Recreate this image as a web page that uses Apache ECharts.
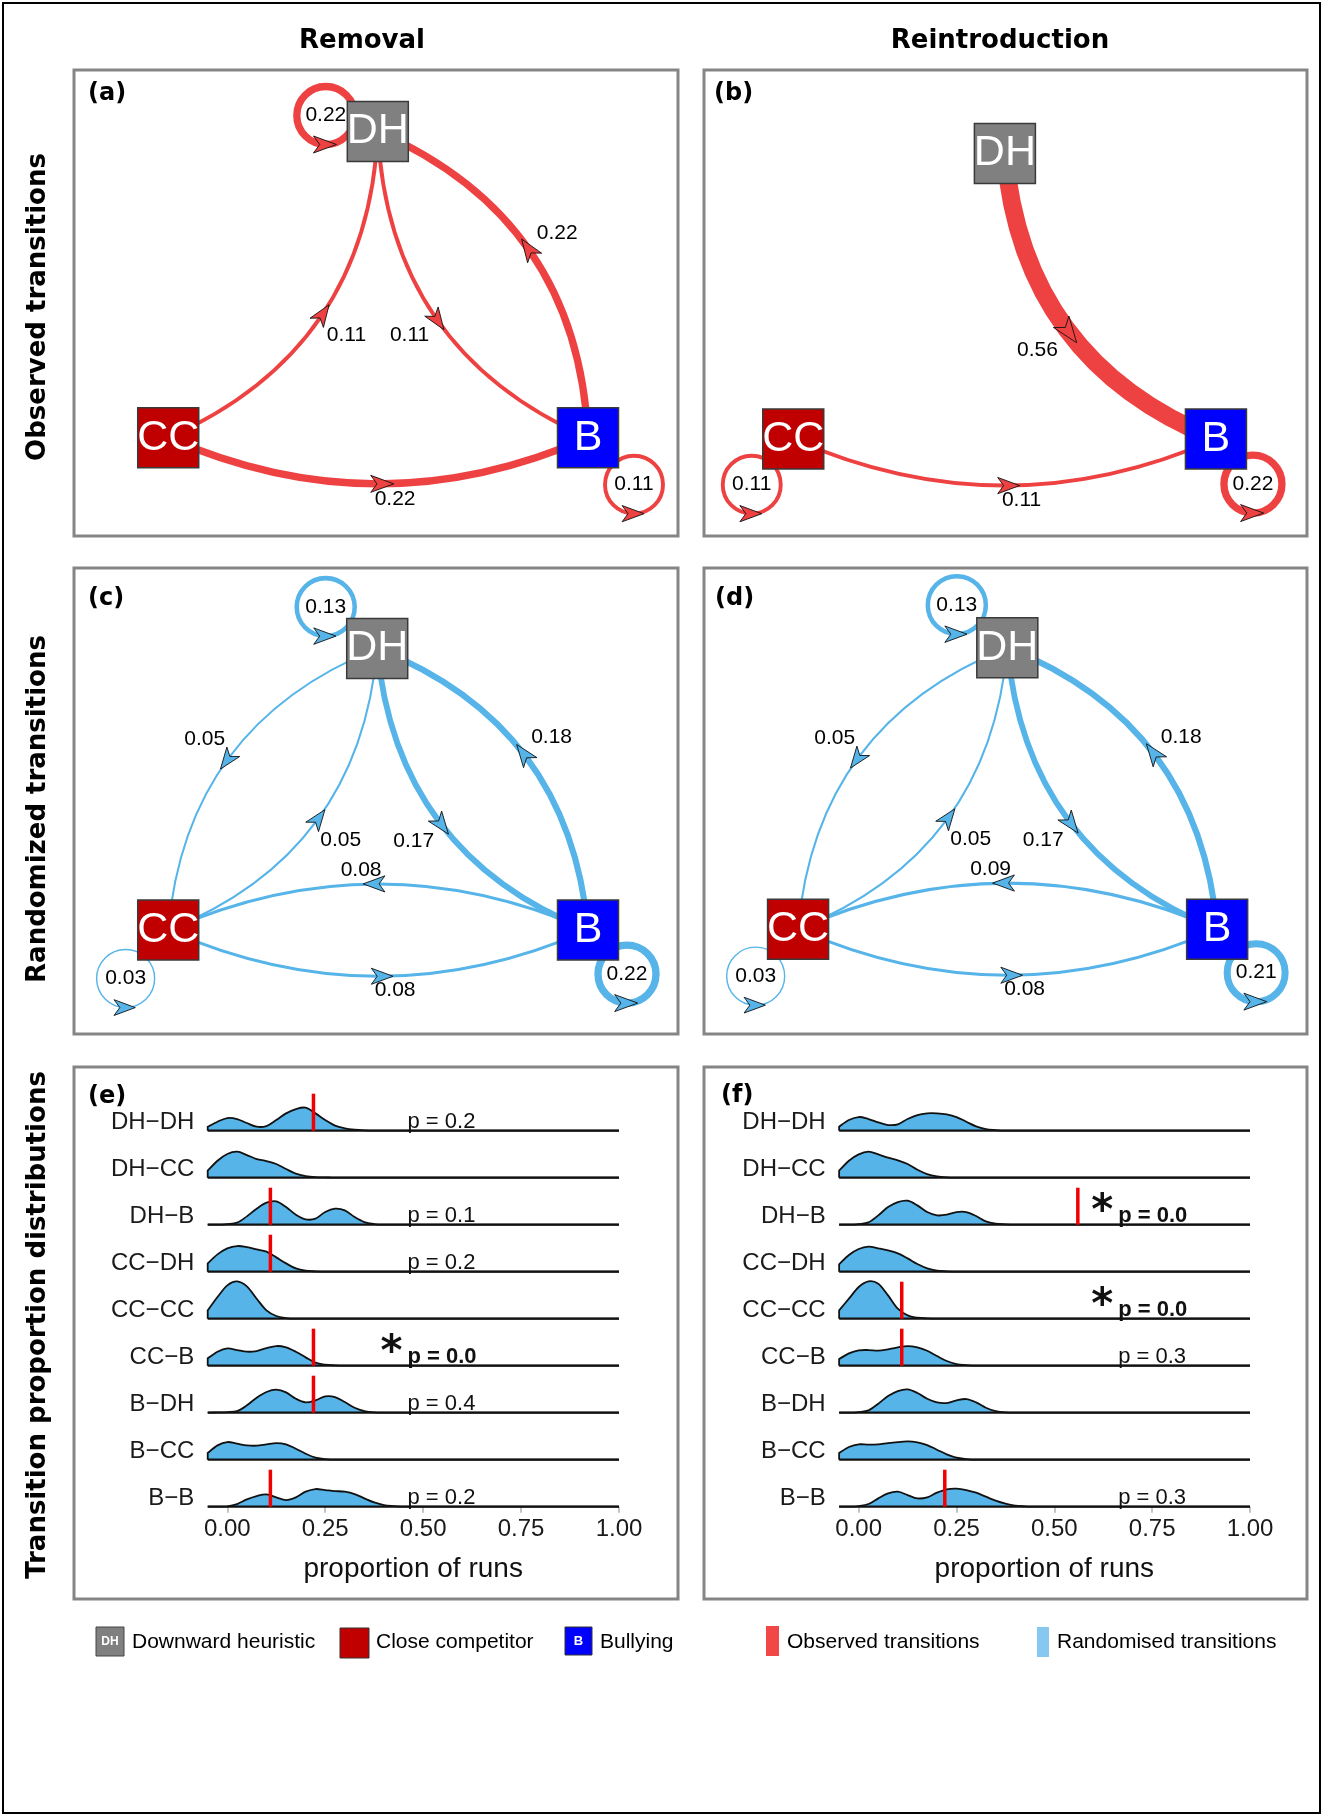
<!DOCTYPE html>
<html><head><meta charset="utf-8">
<script src="https://cdn.jsdelivr.net/npm/echarts@6/dist/echarts.min.js"></script>
<style>html,body{margin:0;padding:0;background:#fff}#c{width:1323px;height:1818px}</style>
</head><body><div id="c"></div>
<script>
// ================= DATA =================
const stateNames = ['DH', 'CC', 'B'];
// [from, to, transition proportion]
const removalObserved = [['DH','DH',0.22],['DH','B',0.11],['CC','DH',0.11],['CC','B',0.22],['B','DH',0.22],['B','B',0.11]];
const reintroObserved = [['DH','B',0.56],['CC','CC',0.11],['CC','B',0.11],['B','B',0.22]];
const removalRandom = [['DH','DH',0.13],['DH','CC',0.05],['DH','B',0.17],['CC','DH',0.05],['CC','CC',0.03],['CC','B',0.08],['B','DH',0.18],['B','CC',0.08],['B','B',0.22]];
const reintroRandom = [['DH','DH',0.13],['DH','CC',0.05],['DH','B',0.17],['CC','DH',0.05],['CC','CC',0.03],['CC','B',0.08],['B','DH',0.18],['B','CC',0.09],['B','B',0.21]];

const transitionCats = ['DH\u2212DH','DH\u2212CC','DH\u2212B','CC\u2212DH','CC\u2212CC','CC\u2212B','B\u2212DH','B\u2212CC','B\u2212B'];
// density sample positions (proportion of runs)
const densityGridX = [-0.05,-0.025,0,0.025,0.05,0.075,0.1,0.125,0.15,0.175,0.2,0.225,0.25,0.275,0.3,0.325,0.35,0.375,0.4,0.425,0.45];
// relative density heights (141 = one ridge row)
const remDH_DH = [12,27,38,35,23,12,14,32,52,65,69,52,32,15,7,3,1,0,0,0,0];
const remDH_CC = [21,51,71,78,68,56,50,41,26,12,5,2,1,0,0,0,0,0,0,0,0];
const remDH_B  = [0,0,2,6,25,48,66,70,53,30,16,18,38,48,43,23,8,2,0,0,0];
const remCC_DH = [25,52,70,77,74,67,60,43,25,10,3,1,0,0,0,0,0,0,0,0,0];
const remCC_CC = [25,65,100,112,97,60,25,8,2,0,0,0,0,0,0,0,0,0,0,0,0];
const remCC_B  = [22,42,52,47,42,44,53,59,55,42,25,9,3,1,0,0,0,0,0,0,0];
const remB_DH  = [0,1,2,5,22,45,62,69,61,42,31,37,49,47,32,15,5,1,0,0,0];
const remB_CC  = [20,43,53,48,43,42,46,50,46,33,18,6,2,0,0,0,0,0,0,0,0];
const remB_B   = [0,0,1,8,22,32,37,28,20,28,45,53,50,47,45,38,25,13,5,2,0];
const reiDH_DH = [12,32,41,35,25,17,19,35,47,52,52,49,41,27,13,5,2,0,0,0,0];
const reiDH_CC = [21,51,70,78,70,60,52,41,24,11,4,1,0,0,0,0,0,0,0,0,0];
const reiDH_B  = [0,0,2,7,28,53,68,72,58,38,28,30,38,38,26,10,3,1,0,0,0];
const reiCC_DH = [22,50,68,75,70,64,55,40,23,10,3,1,0,0,0,0,0,0,0,0,0];
const reiCC_CC = [25,60,95,112,105,70,30,10,3,1,0,0,0,0,0,0,0,0,0,0,0];
const reiCC_B  = [20,37,46,47,45,49,55,59,55,45,29,14,5,2,0,0,0,0,0,0,0];
const reiB_DH  = [0,0,2,7,27,50,65,70,59,42,31,29,37,41,31,15,5,1,0,0,0];
const reiB_CC  = [20,38,46,45,46,50,53,55,52,44,30,16,6,2,0,0,0,0,0,0,0];
const reiB_B   = [0,0,2,8,25,40,45,35,25,28,42,52,54,50,42,30,18,9,3,1,0];
// permutation p-values (null = not shown)
const pRemoval = [0.2, null, 0.1, 0.2, null, 0.0, 0.4, null, 0.2];
const pReintro = [null, null, 0.0, null, 0.0, 0.3, null, null, 0.3];

// ================= STYLE / LAYOUT =================
const RED_EDGE = '#EE4242', BLUE_EDGE = '#56B4E9', RIDGE_FILL = '#56B4E9', OBS_LINE = '#F00000';
const NODE_COLORS = {DH:'#808080', CC:'#C00000', B:'#0000FF'};
const EDGE_W = 31, LOOP_R = 29, RIDGE_UNIT = 141, RED_H = 111;
const FONT = '"Liberation Sans", Arial, sans-serif';
const BOLD = '"DejaVu Sans", sans-serif';

const netPanels = [
  {rect:[74,70,604,466], edges:removalObserved, color:RED_EDGE,
   nodes:{DH:[0.503,0.868], CC:[0.156,0.211], B:[0.851,0.211]}, loops:{DH:[-52,-16], B:[46,47]}},
  {rect:[704,70,603,466], edges:reintroObserved, color:RED_EDGE,
   nodes:{DH:[0.499,0.821], CC:[0.148,0.208], B:[0.849,0.208]}, loops:{CC:[-41.5,45.6], B:[37,45]}},
  {rect:[74,568,604,466], edges:removalRandom, color:BLUE_EDGE,
   nodes:{DH:[0.502,0.827], CC:[0.156,0.223], B:[0.851,0.223]}, loops:{DH:[-51.5,-41.5], CC:[-42.6,48.5], B:[39,44]}},
  {rect:[704,568,603,466], edges:reintroRandom, color:BLUE_EDGE,
   nodes:{DH:[0.503,0.829], CC:[0.156,0.225], B:[0.851,0.225]}, loops:{DH:[-50.5,-42.5], CC:[-42.4,47], B:[39,43.5]}}
];
const ridgePanels = [
  {rect:[227.3,1083.7,391.7,423], dens:[remDH_DH,remDH_CC,remDH_B,remCC_DH,remCC_CC,remCC_B,remB_DH,remB_CC,remB_B], obs:removalObserved, p:pRemoval, pX:0.46},
  {rect:[858.7,1083.7,391.3,423], dens:[reiDH_DH,reiDH_CC,reiDH_B,reiCC_DH,reiCC_CC,reiCC_B,reiB_DH,reiB_CC,reiB_B], obs:reintroObserved, p:pReintro, pX:0.663}
];

// ================= HELPERS =================
function arrowHead(px, py, fx, fy, col, len) {
  const nx = -fy, ny = fx, hw = len * 0.37;
  return {type:'polygon', shape:{points:[
    [px + fx*len*0.55, py + fy*len*0.55],
    [px - fx*len*0.45 + nx*hw, py - fy*len*0.45 + ny*hw],
    [px - fx*len*0.18, py - fy*len*0.18],
    [px - fx*len*0.45 - nx*hw, py - fy*len*0.45 - ny*hw]
  ]}, style:{fill:col, stroke:'#111', lineWidth:0.9}};
}
function edgeText(x, y, t) {
  return {type:'text', x:x, y:y, style:{text:t, font:'21px ' + FONT, fill:'#000', textAlign:'center', textVerticalAlign:'middle'}};
}
function makeEdgeRenderer(panel) {
  return function(params, api) {
    const S = api.coord([api.value(0), api.value(1)]);
    const v = api.value(4), src = api.value(5), tgt = api.value(6);
    const col = panel.color;
    const w = 0.5 + v * EDGE_W;
    const aLen = 21 + 9 * v;
    const label = v.toFixed(2);
    const kids = [];
    if (src === tgt) {
      const off = panel.loops[stateNames[src]];
      const cx = S[0] + off[0], cy = S[1] + off[1];
      kids.push({type:'circle', shape:{cx:cx, cy:cy, r:LOOP_R}, style:{fill:'none', stroke:col, lineWidth:w}});
      kids.push(arrowHead(cx - 2, cy + LOOP_R, 1, 0, col, aLen));
      kids.push(edgeText(cx, cy, label));
    } else {
      const T = api.coord([api.value(2), api.value(3)]);
      const dx = T[0] - S[0], dy = T[1] - S[1], L = Math.hypot(dx, dy);
      const fx = dx / L, fy = dy / L, nx = -fy, ny = fx, afy = Math.abs(fy);
      const kMid = 0.11 + 0.055 * afy;
      const mx = (S[0] + T[0]) / 2, my = (S[1] + T[1]) / 2;
      const cpx = mx + nx * 2 * kMid * L, cpy = my + ny * 2 * kMid * L;
      kids.push({type:'bezierCurve', shape:{x1:S[0], y1:S[1], x2:T[0], y2:T[1], cpx1:cpx, cpy1:cpy},
        style:{fill:'none', stroke:col, lineWidth:w}});
      const px = 0.25*S[0] + 0.5*cpx + 0.25*T[0], py = 0.25*S[1] + 0.5*cpy + 0.25*T[1];
      kids.push(arrowHead(px + fx*3, py + fy*3, fx, fy, col, aLen));
      let lx, ly;
      if (afy > 0.5) { // steep edge: label on the outer side of the bend
        const a = 30 + w / 3;
        lx = px + nx * a; ly = py + ny * a;
      } else {         // flat edge: label below/above and ahead
        lx = px + nx * (13 + w / 3) + fx * 17; ly = py + ny * (13 + w / 3) + fy * 17;
      }
      kids.push(edgeText(lx, ly, label));
    }
    return {type:'group', children:kids};
  };
}
function curveSegments(pts, base) {
  let d = '';
  for (let i = 0; i < pts.length - 1; i++) {
    const p0 = pts[i-1] || pts[i], p1 = pts[i], p2 = pts[i+1], p3 = pts[i+2] || pts[i+1];
    const c1x = p1[0] + (p2[0]-p0[0])/6, c1y = Math.min(base, p1[1] + (p2[1]-p0[1])/6);
    const c2x = p2[0] - (p3[0]-p1[0])/6, c2y = Math.min(base, p2[1] - (p3[1]-p1[1])/6);
    d += 'C' + c1x + ',' + c1y + ' ' + c2x + ',' + c2y + ' ' + p2[0] + ',' + p2[1];
  }
  return d;
}
function makeRidgeRenderer(rp) {
  return function(params, api) {
    const i = api.value(0), row = 8 - i, dens = rp.dens[i];
    const base = api.coord([0, row])[1];
    const pts = dens.map((h, k) => api.coord([densityGridX[k], row + h / RIDGE_UNIT]));
    const x0 = pts[0][0], xEnd = api.coord([1, row])[0], xl = pts[pts.length-1][0];
    const seg = curveSegments(pts, base);
    const fillD = 'M' + x0 + ',' + base + 'L' + x0 + ',' + pts[0][1] + seg + 'L' + xl + ',' + base + 'Z';
    const lineD = 'M' + x0 + ',' + base + 'L' + x0 + ',' + pts[0][1] + seg + 'L' + xEnd + ',' + base;
    return {type:'group', children:[
      {type:'path', shape:{pathData:fillD}, style:{fill:RIDGE_FILL, stroke:'none'}},
      {type:'line', shape:{x1:x0, y1:base, x2:xEnd, y2:base}, style:{stroke:'#111', lineWidth:2.2}},
      {type:'path', shape:{pathData:lineD}, style:{fill:'none', stroke:'#111', lineWidth:1.8}}
    ]};
  };
}
function obsValue(list, cat) {
  const f = list.find(e => (e[0] + '\u2212' + e[1]) === cat);
  return f ? f[2] : 0;
}

// ================= OPTION =================
const grids = [], xAxes = [], yAxes = [], series = [];
netPanels.forEach((p, j) => {
  grids.push({left:p.rect[0], top:p.rect[1], width:p.rect[2], height:p.rect[3], containLabel:false, outerBoundsMode:'none', show:false});
  xAxes.push({gridIndex:j, type:'value', min:0, max:1, show:false});
  yAxes.push({gridIndex:j, type:'value', min:0, max:1, show:false});
  const edgeData = p.edges.map(e => {
    const s = p.nodes[e[0]], t = p.nodes[e[1]];
    return [s[0], s[1], t[0], t[1], e[2], stateNames.indexOf(e[0]), stateNames.indexOf(e[1])];
  });
  series.push({type:'custom', xAxisIndex:j, yAxisIndex:j, data:edgeData, renderItem:makeEdgeRenderer(p), z:2, silent:true, clip:false, animation:false});
  series.push({type:'scatter', xAxisIndex:j, yAxisIndex:j, z:3, silent:true, animation:false,
    symbol:'rect', symbolSize:[61, 60],
    data: stateNames.map(n => ({name:n, value:p.nodes[n], itemStyle:{color:NODE_COLORS[n], borderColor:'#3a3a3a', borderWidth:1.5, opacity:1}})),
    label:{show:true, position:'inside', formatter:'{b}', color:'#fff', fontSize:43, fontFamily:FONT}
  });
});
ridgePanels.forEach((rp, k) => {
  const gi = 4 + k;
  grids.push({left:rp.rect[0], top:rp.rect[1], width:rp.rect[2], height:rp.rect[3], containLabel:false, outerBoundsMode:'none', show:false});
  xAxes.push({gridIndex:gi, type:'value', min:0, max:1, interval:0.25,
    axisLine:{show:false}, splitLine:{show:false},
    axisTick:{show:true, length:6, lineStyle:{color:'#c4c4c4', width:2}},
    axisLabel:{formatter:v => v.toFixed(2), fontSize:24, color:'#1a1a1a', fontFamily:FONT, margin:11},
    name:'proportion of runs', nameLocation:'middle', nameGap:49,
    nameTextStyle:{fontSize:28, color:'#111', fontFamily:FONT, padding:[0,20,0,0]}});
  yAxes.push({gridIndex:gi, type:'value', min:0, max:9, interval:1,
    axisLine:{show:false}, axisTick:{show:false}, splitLine:{show:false},
    axisLabel:{formatter:v => (v <= 8 ? transitionCats[8 - v] : ''), fontSize:24, lineHeight:16, color:'#1a1a1a', fontFamily:FONT, margin:33, verticalAlign:'bottom'}});
  series.push({type:'custom', xAxisIndex:gi, yAxisIndex:gi, z:2, silent:true, clip:false, animation:false,
    data: transitionCats.map((c, i) => [i, 0]), renderItem:makeRidgeRenderer(rp)});
  const obsData = transitionCats.map((c, i) => [obsValue(rp.obs, c), 8 - i]).filter(d => d[0] > 0);
  series.push({type:'custom', xAxisIndex:gi, yAxisIndex:gi, z:4, silent:true, clip:false, animation:false, data:obsData,
    renderItem:function(params, api){
      const a = api.coord([api.value(0), api.value(1)]);
      const b = api.coord([api.value(0), api.value(1) + RED_H / RIDGE_UNIT]);
      return {type:'line', shape:{x1:a[0], y1:a[1], x2:b[0], y2:b[1]}, style:{stroke:OBS_LINE, lineWidth:3.5}};
    }});
  const pData = rp.p.map((pv, i) => [pv, 8 - i]).filter(d => d[0] !== null);
  series.push({type:'custom', xAxisIndex:gi, yAxisIndex:gi, z:5, silent:true, clip:false, animation:false, data:pData,
    renderItem:function(params, api){
      const pv = api.value(0), row = api.value(1);
      const P = api.coord([rp.pX, row]);
      const sig = pv < 0.05;
      const kids = [{type:'text', x:P[0], y:P[1] + 2, style:{text:'p = ' + pv.toFixed(1),
        font:(sig ? 'bold ' : '') + '22px ' + FONT, fill:'#111', textAlign:'left', textVerticalAlign:'bottom'}}];
      if (sig) kids.push({type:'text', x:P[0] - 16, y:P[1] - 12, style:{text:'*', font:'bold 42px ' + BOLD, fill:'#111', textAlign:'center', textVerticalAlign:'middle'}});
      return {type:'group', children:kids};
    }});
});

function gText(x, y, t, font, extra) {
  return Object.assign({type:'text', x:x, y:y, silent:true, style:{text:t, font:font, fill:'#000', textAlign:'center', textVerticalAlign:'middle'}}, extra || {});
}
const frameRects = [[74,70,604,466],[704,70,603,466],[74,568,604,466],[704,568,603,466],[74,1067,604,532],[704,1067,603,532]];
const graphics = [
  {type:'rect', shape:{x:3, y:3, width:1317, height:1810}, style:{fill:'none', stroke:'#000', lineWidth:2}, silent:true}
];
frameRects.forEach(r => graphics.push({type:'rect', shape:{x:r[0], y:r[1], width:r[2], height:r[3]}, style:{fill:'none', stroke:'#858585', lineWidth:3}, silent:true}));
graphics.push(gText(362, 41.5, 'Removal', 'bold 26px ' + BOLD));
graphics.push(gText(1000, 41.5, 'Reintroduction', 'bold 26px ' + BOLD));
graphics.push(gText(38, 307, 'Observed transitions', 'bold 26px ' + BOLD, {rotation:Math.PI/2}));
graphics.push(gText(38, 809, 'Randomized transitions', 'bold 26px ' + BOLD, {rotation:Math.PI/2}));
graphics.push(gText(38, 1325, 'Transition proportion distributions', 'bold 26px ' + BOLD, {rotation:Math.PI/2}));
[['(a)',88,94],['(b)',714,94],['(c)',88,599],['(d)',715,599],['(e)',88,1097],['(f)',721,1096]].forEach(l => {
  graphics.push({type:'text', x:l[1], y:l[2], silent:true, style:{text:l[0], font:'bold 24px ' + BOLD, fill:'#000', textAlign:'left', textVerticalAlign:'middle'}});
});
// legend
const LY = 1642;
function legText(x, t) { return {type:'text', x:x, y:LY, silent:true, style:{text:t, font:'21px ' + FONT, fill:'#000', textAlign:'left', textVerticalAlign:'middle'}}; }
graphics.push({type:'rect', shape:{x:96, y:1627, width:28, height:29}, style:{fill:NODE_COLORS.DH, stroke:'#444', lineWidth:1}, silent:true});
graphics.push({type:'text', x:110, y:1642, silent:true, style:{text:'DH', font:'bold 12px ' + FONT, fill:'#fff', textAlign:'center', textVerticalAlign:'middle'}});
graphics.push(legText(132, 'Downward heuristic'));
graphics.push({type:'rect', shape:{x:340, y:1628, width:29, height:30}, style:{fill:NODE_COLORS.CC, stroke:'#333', lineWidth:1}, silent:true});
graphics.push(legText(376, 'Close competitor'));
graphics.push({type:'rect', shape:{x:565, y:1627, width:27, height:28}, style:{fill:NODE_COLORS.B, stroke:'#333', lineWidth:1}, silent:true});
graphics.push({type:'text', x:578.5, y:1641, silent:true, style:{text:'B', font:'bold 13px ' + FONT, fill:'#fff', textAlign:'center', textVerticalAlign:'middle'}});
graphics.push(legText(600, 'Bullying'));
graphics.push({type:'rect', shape:{x:766, y:1626, width:13, height:30}, style:{fill:'#F24747'}, silent:true});
graphics.push(legText(787, 'Observed transitions'));
graphics.push({type:'rect', shape:{x:1037, y:1627, width:12, height:30}, style:{fill:'#86C8F0'}, silent:true});
graphics.push(legText(1057, 'Randomised transitions'));

const chart = echarts.init(document.getElementById('c'), null, {renderer:'canvas'});
chart.setOption({
  backgroundColor:'#fff', animation:false,
  grid:grids, xAxis:xAxes, yAxis:yAxes, series:series, graphic:graphics
});
</script></body></html>
